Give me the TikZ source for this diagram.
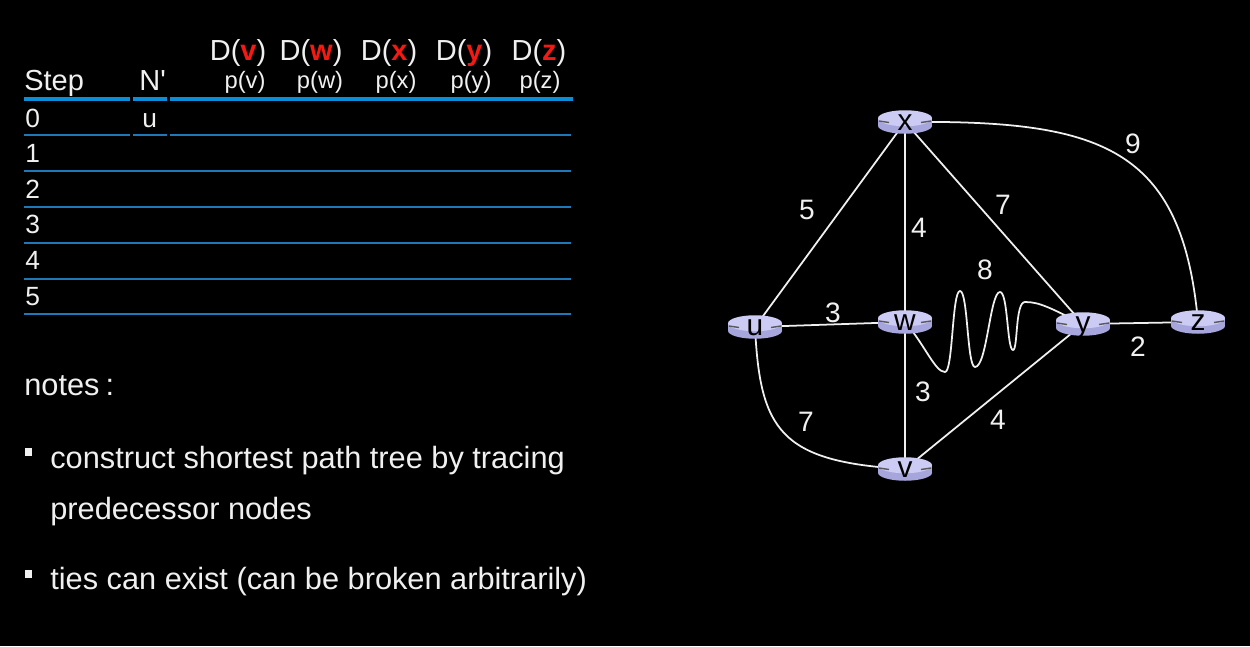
\documentclass[tikz,border=0pt]{standalone}
\usepackage{fontspec}
\setmainfont{Liberation Sans}
\usepackage{xcolor}
\definecolor{routerTop}  {HTML}{CBCBF3}
\definecolor{routerSide} {HTML}{A6A6DC}
\definecolor{ruleBlue}   {HTML}{1F78B8}
\definecolor{headBlue}   {HTML}{0A8ED8}
\definecolor{inkWhite}   {HTML}{F0F0F0}
\definecolor{hiRed}      {HTML}{F21A12}
\usetikzlibrary{positioning, calc}
\pgfdeclarelayer{back}
\pgfdeclarelayer{links}
\pgfsetlayers{back,links,main}
\newcommand{\rlabel}[1]{\raisebox{-5pt}{\makebox[0pt]{#1}}}
\tikzset{
    router/.style={rectangle, draw=none, minimum width=1.1cm, minimum height=0.5cm,
                   inner sep=0pt, text=black, text height=0pt, text depth=0pt,
                   font=\fontsize{17}{17}\selectfont,
                   path picture={
                     \coordinate (rc) at (path picture bounding box.center);
                     \fill[routerSide] ([yshift=-0.075cm]rc) ellipse [x radius=0.54cm, y radius=0.16cm];
                     \fill[routerSide] ([shift={(-0.54cm,-0.075cm)}]rc) rectangle ([shift={(0.54cm,0.075cm)}]rc);
                     \fill[routerTop] ([yshift=0.075cm]rc) ellipse [x radius=0.54cm, y radius=0.16cm];
                     \draw[black!65, line width=0.8pt]
                       ([shift={(-0.52cm,0.02cm)}]rc) -- ++(0.2cm,-0.03cm)
                       ([shift={(0.52cm,0.02cm)}]rc) -- ++(-0.2cm,-0.03cm);}},
    link/.style={draw=inkWhite, line width=1pt},
    weight/.style={text=inkWhite, inner sep=0pt, font=\fontsize{16}{16}\selectfont},
    headtxt/.style={text=inkWhite, inner sep=0pt, anchor=base,
                    font=\fontsize{16.5}{16.5}\selectfont},
    subtxt/.style={text=inkWhite, inner sep=0pt, anchor=base,
                   font=\fontsize{13.5}{13.5}\selectfont},
    celltxt/.style={text=inkWhite, inner sep=0pt, anchor=base west,
                    font=\fontsize{15}{15}\selectfont},
    notetxt/.style={text=inkWhite, inner sep=0pt, anchor=base west,
                    font=\fontsize{17.5}{17.5}\selectfont},
    bulletsq/.style={fill=inkWhite, minimum size=0.16cm, inner sep=0pt},
    headrule/.style={headBlue, line width=2pt},
    rowrule/.style={ruleBlue, line width=1.4pt},
}

\begin{document}
\begin{tikzpicture}[x=0.02cm, y=-0.02cm]
    \begin{pgfonlayer}{back}
    \fill[black] (0,0) rectangle (1250,646);
    \end{pgfonlayer}

    % table head
    \node[celltxt, font=\fontsize{16.5}{16.5}\selectfont] (step) at (24,90) {Step};
    \node[celltxt, font=\fontsize{16.5}{16.5}\selectfont] (nset) at (139,90) {N\textquotesingle};
    \foreach \n/\cx/\px in {v/238/245, w/311/320, x/389/396, y/464/471, z/539/540} {
        \node[headtxt] (D\n) at (\cx,60) {D(\textcolor{hiRed}{\textbf{\n}})};
        \node[subtxt] (p\n) at (\px,88) {p(\n)};
    }
    \draw[headrule] (24,99) -- (130,99) (133,99) -- (167,99) (170,99) -- (573,99);

    % table rows
    \foreach \s/\yy in {0/127, 1/162, 2/198, 3/233, 4/269, 5/305}
        \node[celltxt] (s\s) at (25,\yy) {\s};
    \node[celltxt] (n0) at (142,127) {u};
    \draw[rowrule] (24,135) -- (130,135) (133,135) -- (167,135) (170,135) -- (571,135);
    \foreach \yy in {171, 207, 243, 279, 314}
        \draw[rowrule] (24,\yy) -- (571,\yy);

    % notes
    \node[notetxt] (notes) at (24,395) {notes\hspace{0.2em}:};
    \node[bulletsq] (b1) at (28.5,452) {};
    \node[notetxt] (t1) at (50,468) {construct shortest path tree by tracing};
    \node[notetxt] (t2) at (50,519) {predecessor nodes};
    \node[bulletsq] (b2) at (28.5,574) {};
    \node[notetxt] (t3) at (50,589) {ties can exist (can be broken arbitrarily)};

    % network
    \node[router] (x) at (905,122) {\rlabel{x}};
    \node[router] (u) at (755,327) {\rlabel{u}};
    \node[router] (w) at (905,322) {\rlabel{w}};
    \node[router] (y) at (1083,324) {\rlabel{y}};
    \node[router] (z) at (1198,322) {\rlabel{z}};
    \node[router] (v) at (905,469) {\rlabel{v}};

    \begin{pgfonlayer}{links}
    \draw[link] (u.center) -- (x.center);
    \draw[link] (u.center) -- (w.center);
    \draw[link] (x.center) -- (w.center);
    \draw[link] (x.center) -- (y.center);
    \draw[link] (w.center) -- (v.center);
    \draw[link] (v.center) -- (y.center);
    \draw[link] (y.center) -- (z.center);
    \draw[link] (u.center) .. controls (760,430) and (780,462) .. (v.center);
    \draw[link] (x.center) .. controls (1100,120) and (1182,146) .. (z.center);
    \draw[link] (w.center) .. controls (925,345) and (935,372) .. (945,372)
        .. controls (953,372) and (952,291) .. (960,291)
        .. controls (968,291) and (967,367) .. (975,367)
        .. controls (987,367) and (990,292) .. (1000,292)
        .. controls (1008,292) and (1007,350) .. (1013,350)
        .. controls (1018,350) and (1015,302) .. (1025,302)
        .. controls (1040,302) and (1050,308) .. (y.center);
    \end{pgfonlayer}

    \node[weight] (cux) at (807,210) {5};
    \node[weight] (cxw) at (919,228) {4};
    \node[weight] (cxy) at (1003,205) {7};
    \node[weight] (cxz) at (1133,144) {9};
    \node[weight] (cwy) at (985,270) {8};
    \node[weight] (cuw) at (833,313) {3};
    \node[weight] (cyz) at (1138,347) {2};
    \node[weight] (cwv) at (923,392) {3};
    \node[weight] (cuv) at (806,422) {7};
    \node[weight] (cvy) at (998,420) {4};
\end{tikzpicture}
\end{document}
